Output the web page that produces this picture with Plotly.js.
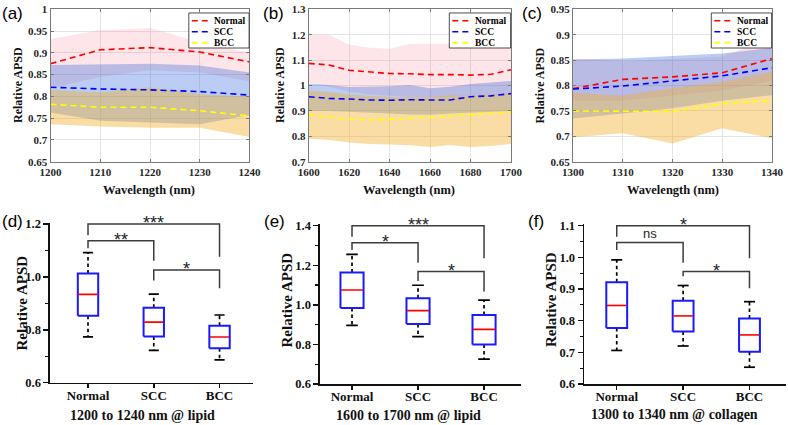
<!DOCTYPE html>
<html><head><meta charset="utf-8">
<script src="https://cdn.plot.ly/plotly-3.0.1.min.js"></script>
<style>html,body{margin:0;padding:0;background:#fff}#chart{width:788px;height:425px}</style>
</head><body><div id="chart"></div>
<script>
const seriesNames = ['Normal','SCC','BCC'];

// ---- (a) 1200-1240 nm ----
const wlA = [1200,1210,1220,1230,1240];
const normalA   = [0.875,0.907,0.912,0.902,0.879];
const normalAUp = [0.932,0.952,0.957,0.925,0.900];
const normalALo = [0.818,0.845,0.860,0.855,0.835];
const sccA      = [0.821,0.817,0.815,0.811,0.803];
const sccAUp    = [0.872,0.874,0.875,0.871,0.855];
const sccALo    = [0.763,0.744,0.740,0.736,0.757];
const bccA      = [0.782,0.775,0.775,0.767,0.755];
const bccAUp    = [0.815,0.809,0.821,0.805,0.800];
const bccALo    = [0.736,0.731,0.728,0.728,0.707];

// ---- (b) 1600-1700 nm ----
const wlB = [1600,1610,1620,1630,1640,1650,1660,1670,1680,1690,1700];
const normalB   = [1.087,1.081,1.060,1.053,1.047,1.046,1.043,1.043,1.041,1.044,1.062];
const normalBUp = [1.200,1.200,1.160,1.149,1.145,1.164,1.164,1.164,1.160,1.159,1.167];
const normalBLo = [1.010,0.995,0.975,0.965,0.960,0.955,0.955,0.955,0.960,0.960,0.965];
const sccB      = [0.956,0.949,0.947,0.943,0.942,0.944,0.943,0.943,0.956,0.959,0.968];
const sccBUp    = [1.007,1.002,0.994,0.995,0.997,1.002,0.989,0.995,1.006,1.012,1.018];
const sccBLo    = [0.900,0.900,0.895,0.893,0.890,0.886,0.885,0.890,0.895,0.897,0.900];
const bccB      = [0.884,0.877,0.868,0.864,0.867,0.871,0.875,0.880,0.886,0.890,0.896];
const bccBUp    = [0.980,0.975,0.965,0.960,0.955,0.955,0.955,0.962,0.960,0.965,0.970];
const bccBLo    = [0.790,0.785,0.776,0.770,0.768,0.765,0.758,0.766,0.758,0.762,0.770];

// ---- (c) 1300-1340 nm ----
const wlC = [1300,1310,1320,1330,1340];
const normalC   = [0.794,0.812,0.817,0.825,0.853];
const normalCUp = [0.853,0.848,0.852,0.857,0.895];
const normalCLo = [0.770,0.770,0.780,0.790,0.809];
const sccC      = [0.793,0.799,0.809,0.819,0.835];
const sccCUp    = [0.851,0.853,0.858,0.863,0.874];
const sccCLo    = [0.735,0.745,0.755,0.770,0.781];
const bccC      = [0.750,0.750,0.749,0.764,0.771];
const bccCUp    = [0.785,0.780,0.795,0.807,0.827];
const bccCLo    = [0.698,0.706,0.686,0.716,0.696];

// ---- box plots (d) ----
const boxDHi  = [1.092,0.935,0.856];
const boxDQ3  = [1.013,0.883,0.815];
const boxDMed = [0.934,0.829,0.773];
const boxDQ1  = [0.853,0.775,0.730];
const boxDLo  = [0.773,0.722,0.686];
// ---- (e) ----
const boxEHi  = [1.255,1.099,1.024];
const boxEQ3  = [1.164,1.033,0.949];
const boxEMed = [1.075,0.971,0.876];
const boxEQ1  = [0.984,0.903,0.799];
const boxELo  = [0.896,0.839,0.726];
// ---- (f) ----
const boxFHi  = [0.992,0.911,0.860];
const boxFQ3  = [0.921,0.863,0.807];
const boxFMed = [0.848,0.815,0.755];
const boxFQ1  = [0.777,0.766,0.702];
const boxFLo  = [0.706,0.720,0.653];

// significance brackets
const bracketPairs = [[0,2],[0,1],[1,2]];
const bracketDH = [1.200,1.137,1.026], bracketDL = [1.158,1.108,0.986], bracketDR = [1.076,1.061,0.957];
const bracketEH = [1.400,1.314,1.168], bracketEL = [1.344,1.277,1.120], bracketER = [1.235,1.213,1.067];
const bracketFH = [1.100,1.047,0.955], bracketFL = [1.065,1.023,0.940], bracketFR = [0.997,0.983,0.902];
const sigD = ['***','**','*'];
const sigE = ['***','*','*'];
const sigF = ['*','ns','*'];

const panelLabels = ['(a)','(b)','(c)','(d)','(e)','(f)'];
const boxTitles = ['1200 to 1240 nm @ lipid','1600 to 1700 nm @ lipid','1300 to 1340 nm @ collagen'];

// ---------- styles ----------
const SERIF = 'Liberation Serif, Times New Roman, serif';
const SANS = 'Liberation Sans, Arial, sans-serif';
const bandFill = ['rgba(245,110,140,0.18)','rgba(30,90,220,0.30)','rgba(240,175,40,0.42)'];
const lineCol = ['#ff0000','#0000ff','#ffff00'];
const DASH = '6px,4px';

const traces = [];
function addSpectrum(wl, means, ups, los, xa, ya){
  const rev = wl.slice().reverse();
  for (let i=0;i<3;i++){
    traces.push({type:'scatter', mode:'lines', x: wl.concat(rev), y: ups[i].concat(los[i].slice().reverse()),
      fill:'toself', fillcolor: bandFill[i], line:{width:0, color:'rgba(0,0,0,0)'},
      xaxis:xa, yaxis:ya, hoverinfo:'skip', showlegend:false});
  }
  for (let i=0;i<3;i++){
    traces.push({type:'scatter', mode:'lines', name: seriesNames[i], x: wl, y: means[i],
      line:{color:lineCol[i], width:1.6, dash:DASH}, xaxis:xa, yaxis:ya, showlegend:false});
  }
}
function addBoxes(hi,q3,med,q1,lo,xa,ya,hw,cw){
  for (let i=0;i<3;i++){
    traces.push({type:'scatter', mode:'lines', x:[i,i,null,i,i], y:[q3[i],hi[i],null,q1[i],lo[i]],
      line:{color:'#000', width:1.7, dash:'3.5px,3px'}, xaxis:xa, yaxis:ya, showlegend:false});
    traces.push({type:'scatter', mode:'lines', x:[i-cw,i+cw,null,i-cw,i+cw], y:[hi[i],hi[i],null,lo[i],lo[i]],
      line:{color:'#000', width:1.7}, xaxis:xa, yaxis:ya, showlegend:false});
    traces.push({type:'scatter', mode:'lines', x:[i-hw,i+hw,i+hw,i-hw,i-hw], y:[q1[i],q1[i],q3[i],q3[i],q1[i]],
      line:{color:'#1a1aff', width:2}, xaxis:xa, yaxis:ya, showlegend:false});
    traces.push({type:'scatter', mode:'lines', x:[i-hw+0.01,i+hw-0.01], y:[med[i],med[i]],
      line:{color:'#ff0000', width:1.6}, xaxis:xa, yaxis:ya, showlegend:false});
  }
}
function addBrackets(H,L,R,xa,ya){
  const x=[], y=[];
  bracketPairs.forEach((p,k)=>{ x.push(p[0],p[0],p[1],p[1],null); y.push(L[k],H[k],H[k],R[k],null); });
  traces.push({type:'scatter', mode:'lines', x, y, line:{color:'#3c3c3c', width:1.5}, xaxis:xa, yaxis:ya, showlegend:false});
}

addSpectrum(wlA, [normalA,sccA,bccA], [normalAUp,sccAUp,bccAUp], [normalALo,sccALo,bccALo], 'x','y');
addSpectrum(wlB, [normalB,sccB,bccB], [normalBUp,sccBUp,bccBUp], [normalBLo,sccBLo,bccBLo], 'x2','y2');
addSpectrum(wlC, [normalC,sccC,bccC], [normalCUp,sccCUp,bccCUp], [normalCLo,sccCLo,bccCLo], 'x3','y3');
addBoxes(boxDHi,boxDQ3,boxDMed,boxDQ1,boxDLo,'x4','y4',0.155,0.077);
addBoxes(boxEHi,boxEQ3,boxEMed,boxEQ1,boxELo,'x5','y5',0.175,0.088);
addBoxes(boxFHi,boxFQ3,boxFMed,boxFQ1,boxFLo,'x6','y6',0.157,0.083);
addBrackets(bracketDH,bracketDL,bracketDR,'x4','y4');
addBrackets(bracketEH,bracketEL,bracketER,'x5','y5');
addBrackets(bracketFH,bracketFL,bracketFR,'x6','y6');

// ---------- axes ----------
const topTick = {family:SERIF, size:11, weight:'bold', color:'#262626'};
function topX(domain, range, dtick, anchor){
  return {domain, range, dtick, tick0:range[0], anchor, showline:true, mirror:'ticks', linecolor:'#7a7a7a', linewidth:1,
    ticks:'inside', ticklen:3, tickcolor:'#7a7a7a', showgrid:true, gridcolor:'#e4e4e4', gridwidth:1, zeroline:false,
    tickfont:topTick, fixedrange:true};
}
function topY(domain, range, dtick, anchor){
  return topX(domain, range, dtick, anchor);
}
const botTickY = {family:SERIF, size:12.5, weight:'bold', color:'#111'};
const botTickX = {family:SERIF, size:13, weight:'bold', color:'#111'};
function botX(domain, range, anchor){
  return {domain, range, anchor, tickvals:[0,1,2], ticktext:seriesNames, showline:true, linecolor:'#111', linewidth:1.5,
    ticks:'outside', ticklen:4, tickwidth:1.5, tickcolor:'#111', ticklabelstandoff:-4, showgrid:false, zeroline:false, tickfont:botTickX, fixedrange:true};
}
function botY(domain, range, dtick, minor, anchor){
  return {domain, range, anchor, dtick, tick0:0.6, tickformat:'.1f', showline:true, linecolor:'#111', linewidth:1.5,
    ticks:'outside', ticklen:5, tickwidth:1.5, tickcolor:'#111', minor:{ticks:'outside', ticklen:3, tickwidth:1.2, dtick:minor, tick0:0.6, tickcolor:'#111', showgrid:false},
    showgrid:false, zeroline:false, tickfont:botTickY, fixedrange:true};
}
const topYDom = [0.61953, 0.97812];
const layout = {
  width:788, height:425, margin:{l:0,r:0,t:0,b:0}, paper_bgcolor:'#fff', plot_bgcolor:'#fff', showlegend:false,
  xaxis:  topX([0.06409,0.31662],[1200,1240],10,'y'),
  yaxis:  topY(topYDom,[0.65,1.0],0.05,'x'),
  xaxis2: topX([0.39175,0.64848],[1600,1700],20,'y2'),
  yaxis2: topY(topYDom,[0.7,1.3],0.1,'x2'),
  xaxis3: topX([0.72716,0.97970],[1300,1340],10,'y3'),
  yaxis3: topY(topYDom,[0.65,0.95],0.05,'x3'),
  xaxis4: botX([0.06345,0.32107],[-0.578,2.509],'y4'),
  yaxis4: botY([0.09953,0.47600],[0.6,1.205],0.2,0.1,'x4'),
  xaxis5: botX([0.40609,0.66117],[-0.485,2.56],'y5'),
  yaxis5: botY([0.09647,0.47224],[0.6,1.407],0.2,0.1,'x5'),
  xaxis6: botX([0.74112,0.99746],[-0.493,2.55],'y6'),
  yaxis6: botY([0.09647,0.47200],[0.6,1.104],0.1,0.05,'x6'),
  shapes:[], annotations:[]
};

// legends (drawn as shapes + text)
const legRows = [0.925,0.853,0.781];
['x','x2','x3'].forEach((xa,k)=>{
  const ya = ['y','y2','y3'][k];
  layout.shapes.push({type:'rect', xref:xa+' domain', yref:ya+' domain', x0:0.695, x1:0.998, y0:0.746, y1:0.976,
    line:{color:'#222', width:0.8}, fillcolor:'#fff', layer:'above'});
  for (let i=0;i<3;i++){
    layout.shapes.push({type:'line', xref:xa+' domain', yref:ya+' domain', x0:0.71, x1:0.795, y0:legRows[i], y1:legRows[i],
      line:{color:lineCol[i], width:1.6, dash:DASH}, layer:'above'});
    layout.annotations.push({xref:xa+' domain', yref:ya+' domain', x:0.812, y:legRows[i], xanchor:'left', yanchor:'middle',
      text:seriesNames[i], showarrow:false, font:{family:SERIF, size:9.5, weight:'bold', color:'#000'}});
  }
});

// significance labels
[[sigD,bracketDH,'x4','y4'],[sigE,bracketEH,'x5','y5'],[sigF,bracketFH,'x6','y6']].forEach(([labs,H,xa,ya])=>{
  bracketPairs.forEach((p,k)=>{
    const star = labs[k].indexOf('*')>=0;
    layout.annotations.push({xref:xa, yref:ya, x:(p[0]+p[1])/2, y:H[k], xanchor:'center', yanchor:'bottom',
      yshift: star ? -11 : -1, text:labs[k], showarrow:false, font:{family:SANS, size: star?18:13, color:'#222'}});
  });
});

function ann(text, x, y, font, angle){
  layout.annotations.push({xref:'paper', yref:'paper', x, y, xanchor:'center', yanchor:'middle', text, showarrow:false, font, textangle: angle||0});
}
const pl = [[0.01586,0.96941],[0.34708,0.96941],[0.67513,0.96941],[0.01523,0.48],[0.34772,0.48],[0.67957,0.48]];
panelLabels.forEach((t,i)=>ann(t, pl[i][0], pl[i][1], {family:SANS, size:17, color:'#000'}));
const fYT = {family:SERIF, size:12, weight:'bold', color:'#111'};
const fXT = {family:SERIF, size:12.5, weight:'bold', color:'#111'};
ann('Relative APSD', 0.02221, 0.79882, fYT, -90);
ann('Relative APSD', 0.35470, 0.79882, fYT, -90);
ann('Relative APSD', 0.68528, 0.79882, fYT, -90);
ann('Wavelength (nm)', 0.18934, 0.55294, fXT);
ann('Wavelength (nm)', 0.51967, 0.55294, fXT);
ann('Wavelength (nm)', 0.85406, 0.55294, fXT);
const fYB = {family:SERIF, size:15, weight:'bold', color:'#111'};
const fXB = {family:SERIF, size:14, weight:'bold', color:'#111'};
ann('Relative APSD', 0.02855, 0.28706, fYB, -90);
ann('Relative APSD', 0.36358, 0.29412, fYB, -90);
ann('Relative APSD', 0.69924, 0.29412, fYB, -90);
ann(boxTitles[0], 0.18084, 0.0212, fXB);
ann(boxTitles[1], 0.51865, 0.0235, fXB);
ann(boxTitles[2], 0.85533, 0.0240, fXB);

Plotly.newPlot('chart', traces, layout, {displayModeBar:false, staticPlot:true});
</script>
</body></html>
